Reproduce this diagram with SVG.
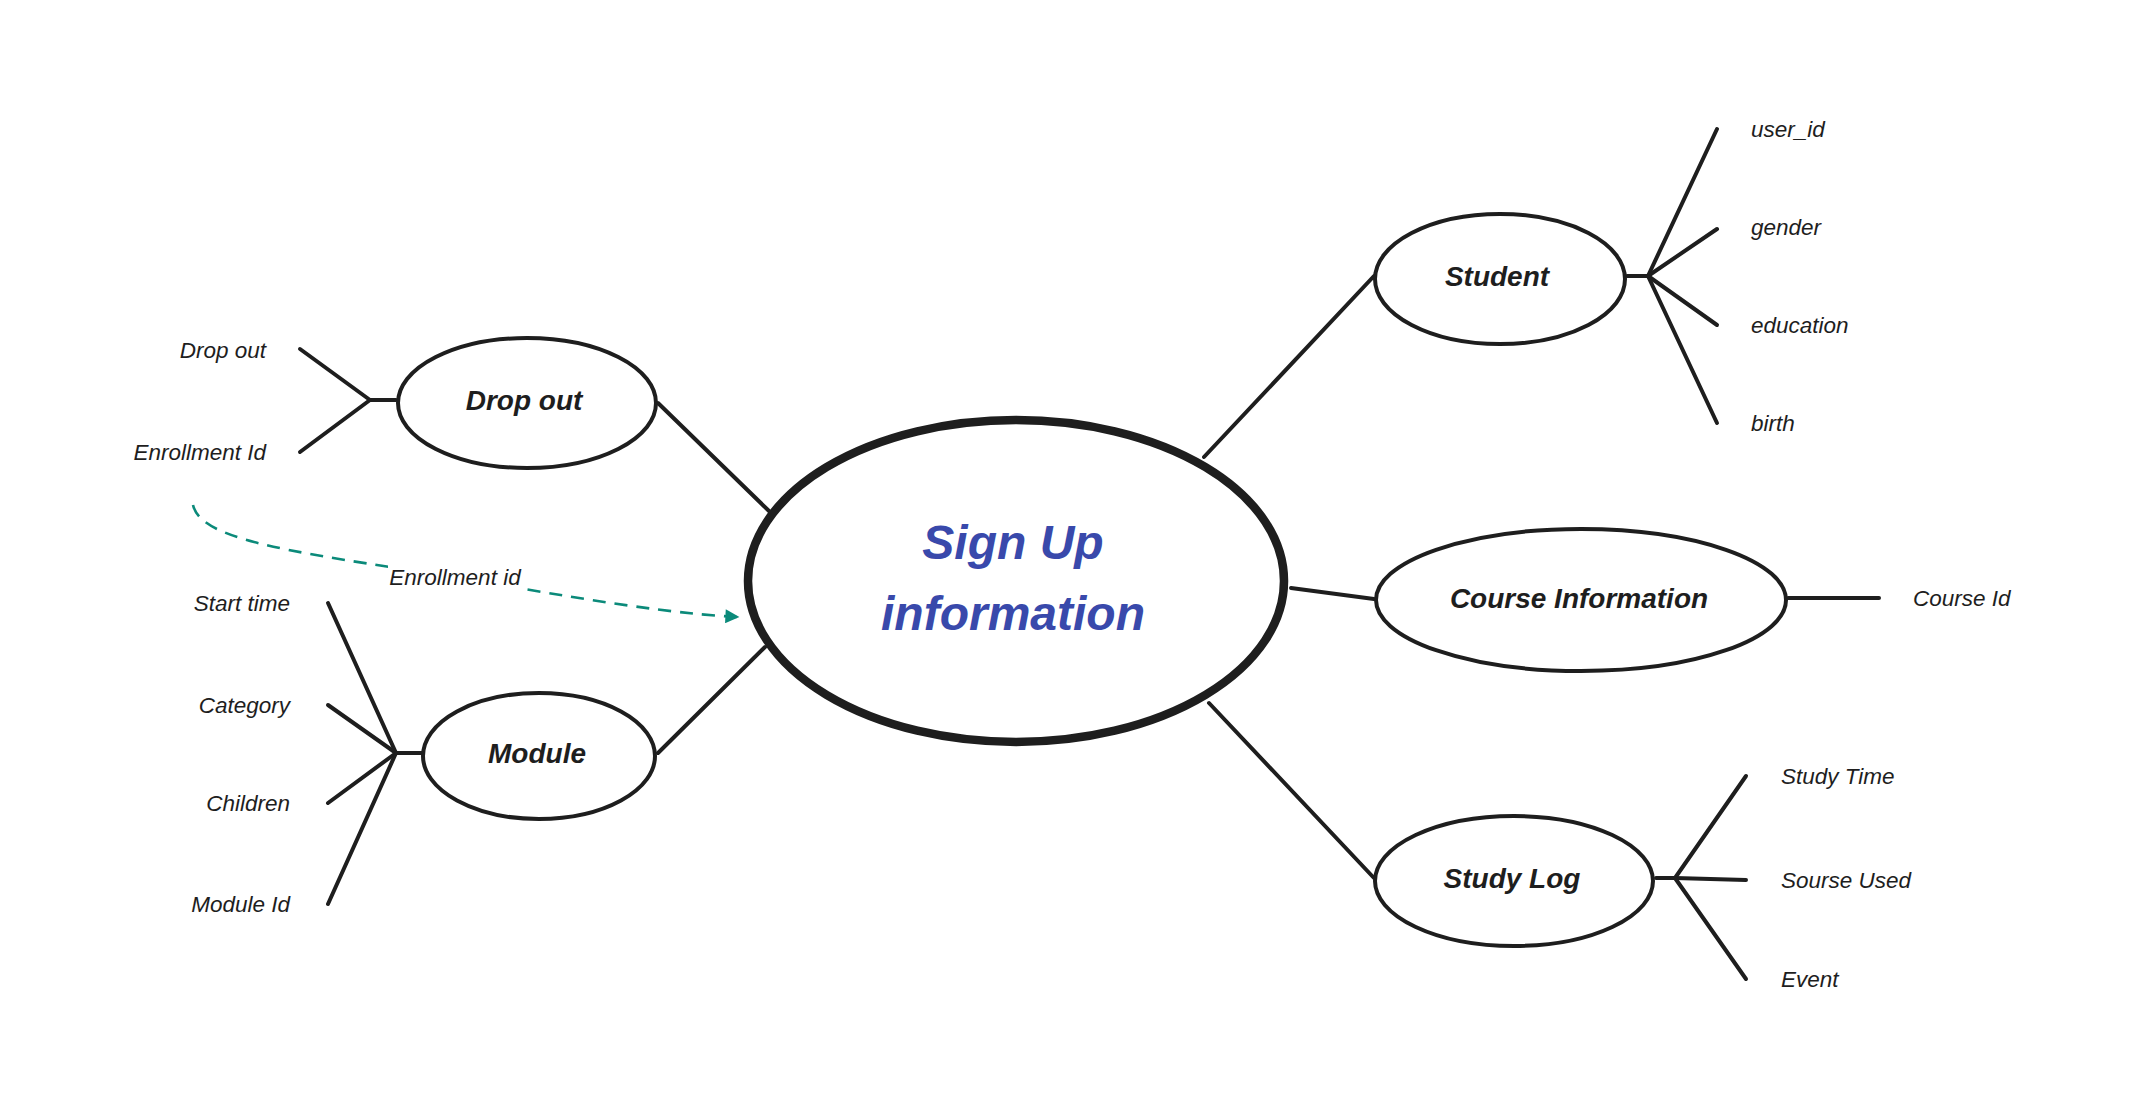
<svg xmlns="http://www.w3.org/2000/svg" width="2135" height="1107" viewBox="0 0 2135 1107">
<defs>
<style>
.ell{fill:#fff;stroke:#1e1e1e;stroke-width:4}
.main{fill:#fff;stroke:#1e1e1e;stroke-width:8.5}
.ln{stroke:#1e1e1e;stroke-width:4;stroke-linecap:round;fill:none}
.nt{font-family:"Liberation Sans",Arial,sans-serif;font-weight:bold;font-style:italic;font-size:28px;fill:#1e1e1e;text-anchor:middle;dominant-baseline:central}
.at{font-family:"Liberation Sans",Arial,sans-serif;font-style:italic;font-size:22.5px;fill:#1e1e1e;dominant-baseline:central}
.r{text-anchor:end}
.dash{stroke:#0b8a7a;stroke-width:2.6;fill:none;stroke-dasharray:13 9}
</style>
<marker id="ah" viewBox="0 0 10 10" refX="9" refY="5" markerWidth="16" markerHeight="14" markerUnits="userSpaceOnUse" orient="auto">
<path d="M0,0 L10,5 L0,10 z" fill="#0b8a7a"/>
</marker>
</defs>
<rect width="2135" height="1107" fill="#fff"/>
<g id="connectors">
<line class="ln" x1="658" y1="403" x2="769" y2="511"/>
<line class="ln" x1="658" y1="753" x2="765" y2="647"/>
<line class="ln" x1="1374" y1="276" x2="1204" y2="457"/>
<line class="ln" x1="1291" y1="588" x2="1374" y2="599"/>
<line class="ln" x1="1209" y1="703" x2="1374" y2="878"/>
<line class="ln" x1="396" y1="400" x2="370" y2="400"/>
<line class="ln" x1="370" y1="400" x2="300" y2="349"/>
<line class="ln" x1="370" y1="400" x2="300" y2="452"/>
<line class="ln" x1="422" y1="753" x2="396" y2="753"/>
<line class="ln" x1="396" y1="753" x2="328" y2="603"/>
<line class="ln" x1="396" y1="753" x2="328" y2="705"/>
<line class="ln" x1="396" y1="753" x2="328" y2="803"/>
<line class="ln" x1="396" y1="753" x2="328" y2="904"/>
<line class="ln" x1="1627" y1="276" x2="1648" y2="276"/>
<line class="ln" x1="1648" y1="276" x2="1717" y2="129"/>
<line class="ln" x1="1648" y1="276" x2="1717" y2="229"/>
<line class="ln" x1="1648" y1="276" x2="1717" y2="325"/>
<line class="ln" x1="1648" y1="276" x2="1717" y2="423"/>
<line class="ln" x1="1788" y1="598" x2="1879" y2="598"/>
<line class="ln" x1="1656" y1="878" x2="1675" y2="878"/>
<line class="ln" x1="1675" y1="878" x2="1746" y2="776"/>
<line class="ln" x1="1675" y1="878" x2="1746" y2="880"/>
<line class="ln" x1="1675" y1="878" x2="1746" y2="979"/>
<path class="dash" d="M193,505 C200,535 265,548 390,567 S640,612 738,617" marker-end="url(#ah)"/>
<rect x="388" y="562" width="135" height="28" fill="#fff"/>
<text class="at" x="455" y="577" text-anchor="middle" font-style="normal">Enrollment id</text>
</g>
<g id="signup">
<ellipse class="main" cx="1016" cy="581" rx="268" ry="161"/>
<text x="1013" y="542" font-family="'Liberation Sans',Arial,sans-serif" font-weight="bold" font-style="italic" font-size="48" fill="#3949ab" text-anchor="middle" dominant-baseline="central">Sign Up</text>
<text x="1013" y="613" font-family="'Liberation Sans',Arial,sans-serif" font-weight="bold" font-style="italic" font-size="48" fill="#3949ab" text-anchor="middle" dominant-baseline="central">information</text>
</g>
<g id="dropout">
<ellipse class="ell" cx="527" cy="403" rx="129" ry="65"/>
<text class="nt" x="524" y="400">Drop out</text>
<text class="at r" x="266" y="350">Drop out</text>
<text class="at r" x="266" y="452">Enrollment Id</text>
</g>
<g id="module">
<ellipse class="ell" cx="539" cy="756" rx="116" ry="63"/>
<text class="nt" x="537" y="753">Module</text>
<text class="at r" x="290" y="603">Start time</text>
<text class="at r" x="290" y="705">Category</text>
<text class="at r" x="290" y="803">Children</text>
<text class="at r" x="290" y="904">Module Id</text>
</g>
<g id="student">
<ellipse class="ell" cx="1500" cy="279" rx="125" ry="65"/>
<text class="nt" x="1497" y="276">Student</text>
<text class="at" x="1751" y="129">user_id</text>
<text class="at" x="1751" y="227">gender</text>
<text class="at" x="1751" y="325">education</text>
<text class="at" x="1751" y="423">birth</text>
</g>
<g id="course">
<ellipse class="ell" cx="1581" cy="600" rx="205" ry="71"/>
<text class="nt" x="1579" y="598">Course Information</text>
<text class="at" x="1913" y="598">Course Id</text>
</g>
<g id="studylog">
<ellipse class="ell" cx="1514" cy="881" rx="139" ry="65"/>
<text class="nt" x="1512" y="878">Study Log</text>
<text class="at" x="1781" y="776">Study Time</text>
<text class="at" x="1781" y="880">Sourse Used</text>
<text class="at" x="1781" y="979">Event</text>
</g>
</svg>
